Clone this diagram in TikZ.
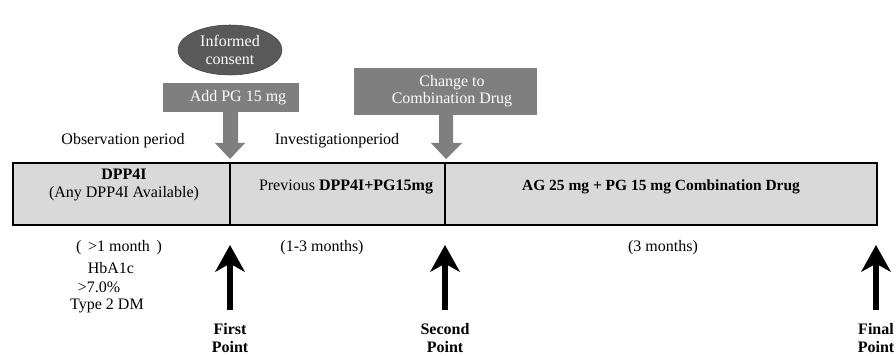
\documentclass[tikz,border=0pt]{standalone}
\usepackage{fontspec}
\setmainfont{Liberation Serif}
\usetikzlibrary{arrows.meta,shapes.geometric}
\definecolor{bargray}{HTML}{D9D9D9}
\definecolor{boxgray}{HTML}{7F7F7F}
\definecolor{ovalgray}{HTML}{595959}
\tikzset{
  boxtext/.style={text=white, font=\fontsize{12}{13}\selectfont, align=center, inner sep=0pt},
  lbl/.style={font=\fontsize{12}{13.5}\selectfont, align=center, inner sep=0pt},
  pointlbl/.style={font=\bfseries\fontsize{12}{14}\selectfont, align=center, inner sep=0pt},
  uparrow/.style={line width=5pt, -{Stealth[width=22pt,length=20pt,inset=6pt]}},
}
\begin{document}
\begin{tikzpicture}[x=0.75pt,y=-0.75pt]
    \useasboundingbox (0,0) rectangle (896,356);
    % consent oval and gray block arrows
    \node[ellipse, fill=ovalgray, draw=ovalgray!70!black, minimum width=78pt, minimum height=37.5pt, boxtext] (consent) at (230,50) {Informed\\consent};
    \fill[boxgray] (163,83) rectangle (299,112);
    \fill[boxgray] (223,112) -- (238,112) -- (238,143) -- (245,143) -- (230,159) -- (215,143) -- (223,143) -- cycle;
    \node[boxtext] (addpg) at (238,98) {Add PG 15 mg};
    \fill[boxgray] (354,68) rectangle (537,115);
    \fill[boxgray] (439,115) -- (453,115) -- (453,143) -- (462,143) -- (446,159) -- (431,143) -- (439,143) -- cycle;
    \node[boxtext] (change) at (452,91) {Change to\\Combination Drug};
    \node[lbl] (obs) at (123,141) {Observation period};
    \node[lbl] (inv) at (337,141) {Investigationperiod};
    % timeline bar
    \draw[fill=bargray, line width=1.3pt] (13,163) rectangle (877,225);
    \draw[line width=1pt] (230,163) -- (230,225);
    \draw[line width=1pt] (445,163) -- (445,225);
    \node[lbl] (dpp) at (124,185) {\textbf{DPP4I}\\(Any DPP4I Available)};
    \node[lbl] (prev) at (346,187) {Previous \textbf{DPP4I+PG15mg}};
    \node[lbl, font=\bfseries\fontsize{11.6}{13}\selectfont] (combo) at (661,187) {AG 25 mg + PG 15 mg Combination Drug};
    % durations and criteria
    \node[lbl] (m1) at (119,248) {(\hspace{5pt}{>}1 month\hspace{5pt})};
    \node[lbl] (hba) at (111,268) {HbA1c};
    \node[lbl] (gt7) at (99,287) {{>}7.0\%};
    \node[lbl] (t2dm) at (107,306) {Type 2 DM};
    \node[lbl] (m13) at (322,248) {(1-3 months)};
    \node[lbl] (m3) at (663,248) {(3 months)};
    % assessment points
    \foreach \px/\pname/\ptext in {230/first/First, 445/second/Second, 876/final/Final} {
        \coordinate (\pname base) at (\px,310);
        \coordinate (\pname tip) at (\px,245);
        \draw[uparrow] (\pname base) -- (\pname tip);
        \node[pointlbl] (\pname) at (\px,338) {\ptext\\Point};
    }
\end{tikzpicture}
\end{document}
